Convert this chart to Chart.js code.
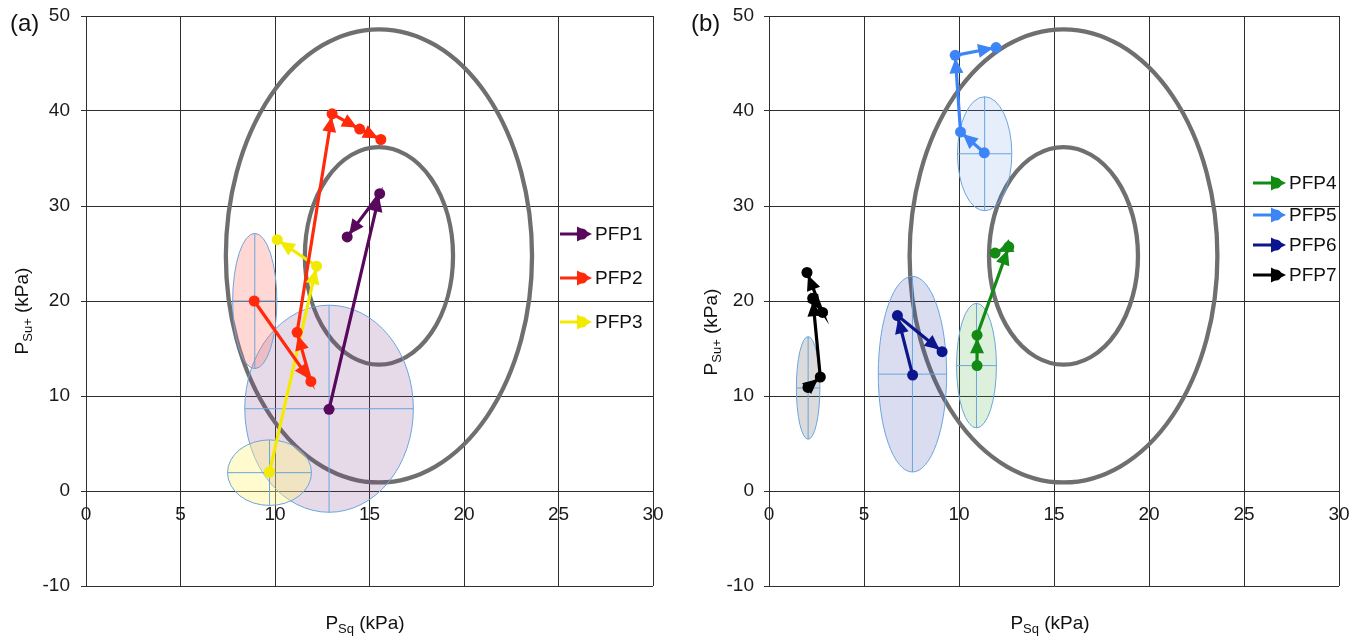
<!DOCTYPE html>
<html>
<head>
<meta charset="utf-8">
<title>PFP trajectories</title>
<script src="https://cdn.jsdelivr.net/npm/chart.js@4.4.1/dist/chart.umd.min.js"></script>
<style>
  html, body { margin: 0; padding: 0; background: #fff; }
  #wrap { position: relative; width: 1362px; height: 638px; }
  .panel { position: absolute; top: 0; width: 681px; height: 638px; }
  #pa { left: 0; }
  #pb { left: 681px; }
</style>
</head>
<body>
<div id="wrap">
  <div class="panel" id="pa"><canvas id="chartA"></canvas></div>
  <div class="panel" id="pb"><canvas id="chartB"></canvas></div>
</div>
<script>
// ---- data (kPa) ----
const xMin = 0, xMax = 30, xStep = 5;
const yMin = -10, yMax = 50, yStep = 10;

// grey reference rings (outer, inner): centre + half axes
const ringCx = [15.5, 15.5];
const ringCy = [24.75, 24.75];
const ringRx = [8.1, 3.92];
const ringRy = [23.85, 11.45];

// panel (a)
const labelsA = ['PFP1', 'PFP2', 'PFP3'];
const pfp1X = [12.86, 15.54, 13.82];
const pfp1Y = [8.6, 31.3, 26.75];
const pfp2X = [8.9, 11.9, 11.17, 13.02, 14.48, 15.6];
const pfp2Y = [20.0, 11.53, 16.7, 39.7, 38.1, 37.0];
const pfp3X = [9.71, 12.2, 10.12];
const pfp3Y = [2.0, 23.66, 26.45];
// confidence ellipses for (a), same order as labelsA
const ellACx = [12.86, 8.93, 9.71];
const ellACy = [8.66, 20.0, 1.93];
const ellARx = [4.46, 1.17, 2.22];
const ellARy = [10.9, 7.12, 3.45];

// panel (b)
const labelsB = ['PFP4', 'PFP5', 'PFP6', 'PFP7'];
const pfp4X = [10.95, 10.95, 12.62, 11.9];
const pfp4Y = [13.2, 16.4, 25.7, 25.05];
const pfp5X = [11.33, 10.08, 9.8, 11.95];
const pfp5Y = [35.6, 37.8, 45.86, 46.68];
const pfp6X = [7.56, 6.76, 9.11];
const pfp6Y = [12.2, 18.47, 14.66];
const pfp7X = [2.05, 2.7, 2.3, 2.82, 2.0];
const pfp7Y = [10.9, 12.0, 20.3, 18.8, 23.0];
const ellBCx = [10.92, 11.35, 7.55, 2.06];
const ellBCy = [13.2, 35.5, 12.3, 10.85];
const ellBRx = [1.05, 1.43, 1.8, 0.62];
const ellBRy = [6.56, 6.0, 10.3, 5.4];

// ---- styling ----
const FONT = "'Liberation Sans', Arial, Helvetica, sans-serif";
Chart.defaults.font.family = FONT;
Chart.defaults.color = '#1a1a1a';
const gridColor = '#2e2e2e';

const lineColors = {
  PFP1: '#58095c', PFP2: '#ff2a0c', PFP3: '#f2ea00',
  PFP4: '#138a14', PFP5: '#3d85f6', PFP6: '#0b168c', PFP7: '#000000'
};
const ellFills = {
  PFP1: 'rgba(120,60,140,0.19)', PFP2: 'rgba(255,110,100,0.28)', PFP3: 'rgba(255,245,130,0.38)',
  PFP4: 'rgba(60,170,60,0.18)', PFP5: 'rgba(100,150,230,0.16)', PFP6: 'rgba(60,70,170,0.19)',
  PFP7: 'rgba(90,90,90,0.22)'
};

function series (label, xs, ys) {
  const c = lineColors[label];
  return {
    label,
    data: xs.map((x, i) => ({ x, y: ys[i] })),
    showLine: true,
    borderColor: c,
    backgroundColor: c,
    borderWidth: 3.2,
    pointRadius: 5.5,
    pointHoverRadius: 5.5,
    pointBorderWidth: 0,
    pointBackgroundColor: c,
    tension: 0
  };
}

// filled triangle with its tip at (tx,ty) pointing along ang
function arrowHead (ctx, tx, ty, ang, len, half) {
  const c = Math.cos(ang), s = Math.sin(ang);
  ctx.beginPath();
  ctx.moveTo(tx, ty);
  ctx.lineTo(tx - len * c + half * s, ty - len * s - half * c);
  ctx.lineTo(tx - len * c - half * s, ty - len * s + half * c);
  ctx.closePath();
  ctx.fill();
}

// text with subscript parts, centred on (0,0) of current transform
function subText (ctx, parts, size) {
  const big = `${size}px ${FONT}`, small = `${Math.round(size * 0.7)}px ${FONT}`;
  let w = 0;
  parts.forEach(p => { ctx.font = p.sub ? small : big; w += ctx.measureText(p.t).width; });
  let x = -w / 2;
  ctx.textBaseline = 'alphabetic';
  ctx.textAlign = 'left';
  parts.forEach(p => {
    ctx.font = p.sub ? small : big;
    ctx.fillText(p.t, x, p.sub ? size * 0.35 + 4 : size * 0.35);
    x += ctx.measureText(p.t).width;
  });
}

// rings + confidence ellipses under the trajectories
const backdrop = {
  id: 'backdrop',
  beforeDatasetsDraw (chart, args, opts) {
    const { ctx, chartArea } = chart;
    const sx = chart.scales.x, sy = chart.scales.y;
    const ell = (cx, cy, rx, ry) => {
      const px = sx.getPixelForValue(cx), py = sy.getPixelForValue(cy);
      return {
        px, py,
        rx: Math.abs(sx.getPixelForValue(cx + rx) - px),
        ry: Math.abs(sy.getPixelForValue(cy + ry) - py)
      };
    };
    ctx.save();
    ctx.beginPath();
    ctx.rect(chartArea.left, chartArea.top, chartArea.width, chartArea.height);
    ctx.clip();

    ctx.strokeStyle = '#6f6f6f';
    ctx.lineWidth = 4.3;
    ringCx.forEach((cx, i) => {
      const e = ell(cx, ringCy[i], ringRx[i], ringRy[i]);
      ctx.beginPath();
      ctx.ellipse(e.px, e.py, e.rx, e.ry, 0, 0, Math.PI * 2);
      ctx.stroke();
    });

    opts.labels.forEach((lab, i) => {
      const e = ell(opts.cx[i], opts.cy[i], opts.rx[i], opts.ry[i]);
      ctx.beginPath();
      ctx.ellipse(e.px, e.py, e.rx, e.ry, 0, 0, Math.PI * 2);
      ctx.fillStyle = ellFills[lab];
      ctx.fill();
      ctx.strokeStyle = '#6aa5dd';
      ctx.lineWidth = 1;
      ctx.stroke();
      ctx.beginPath();
      ctx.moveTo(e.px - e.rx, e.py); ctx.lineTo(e.px + e.rx, e.py);
      ctx.moveTo(e.px, e.py - e.ry); ctx.lineTo(e.px, e.py + e.ry);
      ctx.stroke();
    });
    ctx.restore();
  }
};

// arrowhead at the end of every segment
const segArrows = {
  id: 'segArrows',
  afterDatasetsDraw (chart) {
    const { ctx } = chart;
    ctx.save();
    chart.data.datasets.forEach((ds, di) => {
      const pts = chart.getDatasetMeta(di).data;
      ctx.fillStyle = ds.borderColor;
      for (let i = 1; i < pts.length; i++) {
        const a = pts[i - 1], b = pts[i];
        const ang = Math.atan2(b.y - a.y, b.x - a.x);
        const back = 3;
        arrowHead(ctx, b.x - back * Math.cos(ang), b.y - back * Math.sin(ang), ang, 15, 7);
      }
    });
    ctx.restore();
  }
};

// legend floating inside the plot, arrow-style keys
const arrowLegend = {
  id: 'arrowLegend',
  afterDraw (chart, args, opts) {
    const { ctx } = chart;
    ctx.save();
    chart.data.datasets.forEach((ds, i) => {
      const y = opts.ys[i];
      const c = ds.borderColor;
      ctx.strokeStyle = c;
      ctx.fillStyle = c;
      ctx.lineWidth = 3;
      ctx.beginPath();
      ctx.moveTo(opts.x0, y);
      ctx.lineTo(opts.x1 - 6, y);
      ctx.stroke();
      ctx.beginPath();
      ctx.arc(opts.x1 - 10, y, 5.5, 0, Math.PI * 2);
      ctx.fill();
      arrowHead(ctx, opts.x1, y, 0, 15, 7.5);
      ctx.fillStyle = '#111';
      ctx.font = `19px ${FONT}`;
      ctx.textAlign = 'left';
      ctx.textBaseline = 'middle';
      ctx.fillText(ds.label, opts.x1 + 3, y + 1);
    });
    ctx.restore();
  }
};

// panel letter + axis titles with subscripts
const captions = {
  id: 'captions',
  afterDraw (chart, args, opts) {
    const { ctx } = chart;
    ctx.save();
    ctx.fillStyle = '#111';
    ctx.font = `24px ${FONT}`;
    ctx.textAlign = 'left';
    ctx.textBaseline = 'middle';
    ctx.fillText(opts.panel, opts.panelX, opts.panelY);

    ctx.save();
    ctx.translate(opts.xtX, opts.xtY);
    subText(ctx, [{ t: 'P' }, { t: 'Sq', sub: true }, { t: ' (kPa)' }], 19);
    ctx.restore();

    ctx.save();
    ctx.translate(opts.ytX, opts.ytY);
    ctx.rotate(-Math.PI / 2);
    subText(ctx, [{ t: 'P' }, { t: 'Su+', sub: true }, { t: ' (kPa)' }], 19);
    ctx.restore();
    ctx.restore();
  }
};

function makeChart (id, datasets, cfg) {
  return new Chart(document.getElementById(id), {
    type: 'scatter',
    data: { datasets },
    plugins: [backdrop, segArrows, arrowLegend, captions],
    options: {
      responsive: true,
      maintainAspectRatio: false,
      animation: false,
      events: [],
      layout: { padding: { left: 0, top: 16, right: cfg.rightPad, bottom: 52 } },
      scales: {
        x: {
          type: 'linear',
          min: xMin, max: xMax,
          position: { y: 0 },
          ticks: { stepSize: xStep, padding: 7, font: { size: 19 }, color: '#1a1a1a', maxRotation: 0 },
          grid: { color: gridColor, tickLength: 5 },
          border: { color: gridColor },
          afterFit (s) { s.paddingLeft = 0; s.paddingRight = 0; }
        },
        y: {
          type: 'linear',
          min: yMin, max: yMax,
          ticks: { stepSize: yStep, padding: cfg.yPad, font: { size: 19 }, color: '#1a1a1a' },
          grid: { color: gridColor, tickLength: 5 },
          border: { color: gridColor },
          afterFit (s) { s.width = cfg.yWidth; s.paddingTop = 0; s.paddingBottom = 0; }
        }
      },
      plugins: {
        legend: { display: false },
        tooltip: { enabled: false },
        backdrop: cfg.ellipses,
        arrowLegend: cfg.legend,
        captions: cfg.captions
      }
    }
  });
}

makeChart('chartA', [
  series('PFP1', pfp1X, pfp1Y),
  series('PFP2', pfp2X, pfp2Y),
  series('PFP3', pfp3X, pfp3Y)
], {
  rightPad: 28, yWidth: 86, yPad: 11,
  ellipses: { labels: labelsA, cx: ellACx, cy: ellACy, rx: ellARx, ry: ellARy },
  legend: { x0: 560, x1: 592, ys: [234, 278, 322] },
  captions: { panel: '(a)', panelX: 10, panelY: 24, xtX: 365, xtY: 622, ytX: 21, ytY: 311 }
});

makeChart('chartB', [
  series('PFP4', pfp4X, pfp4Y),
  series('PFP5', pfp5X, pfp5Y),
  series('PFP6', pfp6X, pfp6Y),
  series('PFP7', pfp7X, pfp7Y)
], {
  rightPad: 23, yWidth: 88, yPad: 10,
  ellipses: { labels: labelsB, cx: ellBCx, cy: ellBCy, rx: ellBRx, ry: ellBRy },
  legend: { x0: 572, x1: 605, ys: [183, 215, 245, 275] },
  captions: { panel: '(b)', panelX: 10, panelY: 24, xtX: 369, xtY: 622, ytX: 29, ytY: 332 }
});
</script>
</body>
</html>
